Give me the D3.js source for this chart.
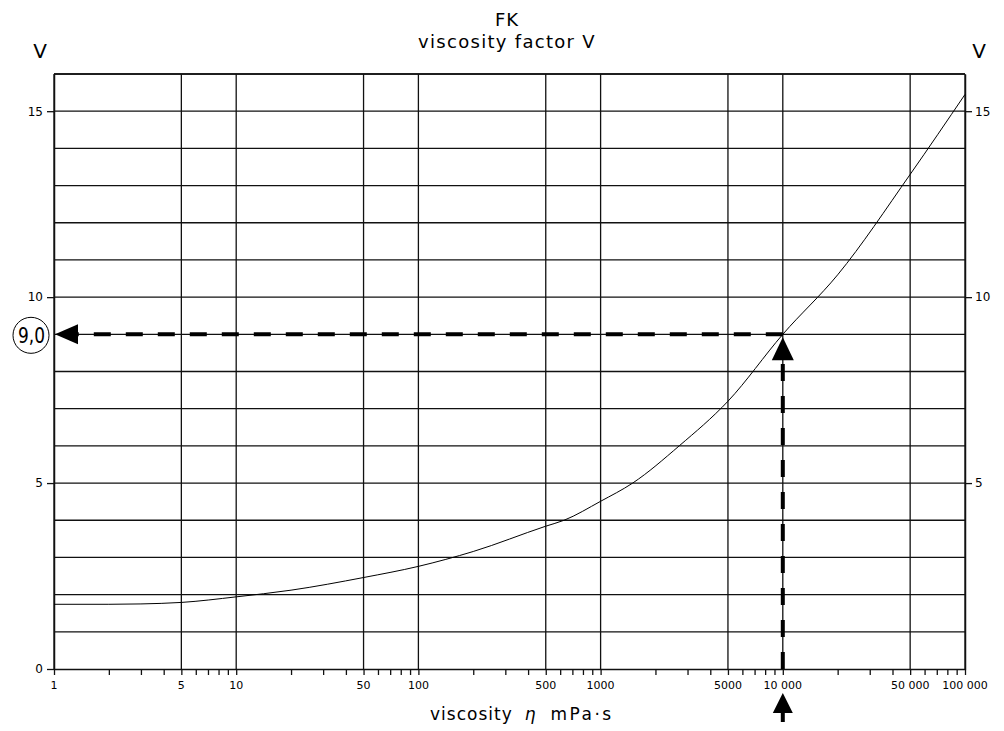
<!DOCTYPE html>
<html>
<head>
<meta charset="utf-8">
<script src="https://cdn.jsdelivr.net/npm/d3@7"></script>
<style>
  body { margin: 0; background: #fff; }
  text { font-family: "DejaVu Sans", sans-serif; fill: #000; }
</style>
</head>
<body>
<div id="chart"></div>
<script>
// curve: viscosity (mPa·s) -> factor V
var viscosity = [1, 2, 3, 5, 10, 20, 50, 100, 200, 500, 630, 1000, 1500, 2700, 5000, 10000, 20000, 50000, 100000];
var factorV   = [1.74, 1.74, 1.75, 1.79, 1.94, 2.12, 2.46, 2.76, 3.16, 3.84, 4.0, 4.51, 5.0, 6.0, 7.2, 9.0, 10.6, 13.3, 15.45];

// x axis ticks
var xGridValues = [1, 5, 10, 50, 100, 500, 1000, 5000, 10000, 50000, 100000];
var xTickLabels = ["1", "5", "10", "50", "100", "500", "1000", "5000", "10 000", "50 000", "100 000"];
var yLabelsLeft = [0, 5, 10, 15];
var yLabelsRight = [5, 10, 15];

// reading example
var readEta = 10000;
var readV = 9.0;
var readLabel = "9,0";

var W = 1004, H = 731;
var margin = {top: 74, right: 39, bottom: 62, left: 54};

var svg = d3.select("#chart").append("svg")
    .attr("width", W)
    .attr("height", H);

svg.append("rect").attr("width", W).attr("height", H).attr("fill", "#fff");

var x = d3.scaleLog()
    .domain([1, 100000])
    .range([margin.left, W - margin.right]);

var y = d3.scaleLinear()
    .domain([0, 16])
    .range([H - margin.bottom, margin.top]);

var x0 = x.range()[0], x1 = x.range()[1];
var y0 = y.range()[0], y1 = y.range()[1];

// minor tick values: 1..9 per decade
var minorTicks = [];
for (var p = 0; p < 5; p++) {
    for (var k = 1; k < 10; k++) minorTicks.push(k * Math.pow(10, p));
}
minorTicks.push(100000);

// horizontal grid
svg.append("g")
    .selectAll("line")
    .data(d3.range(1, 17))
    .enter().append("line")
    .attr("x1", x0).attr("x2", x1)
    .attr("y1", function (d) { return y(d); })
    .attr("y2", function (d) { return y(d); })
    .attr("stroke", "#111")
    .attr("stroke-width", 1.3);

// vertical grid
svg.append("g")
    .selectAll("line")
    .data(xGridValues)
    .enter().append("line")
    .attr("x1", function (d) { return x(d); })
    .attr("x2", function (d) { return x(d); })
    .attr("y1", y1).attr("y2", y0)
    .attr("stroke", "#111")
    .attr("stroke-width", 1.3);

// bottom axis with minor ticks
var xAxis = d3.axisBottom(x)
    .tickValues(minorTicks)
    .tickSize(6)
    .tickSizeOuter(0)
    .tickFormat("");

var gx = svg.append("g")
    .attr("transform", "translate(0," + y0 + ")")
    .call(xAxis);
gx.select(".domain").attr("stroke", "#111").attr("stroke-width", 1.5);
gx.selectAll(".tick line").attr("stroke", "#111").attr("stroke-width", 1.3);

// x tick labels
svg.append("g")
    .selectAll("text")
    .data(xGridValues)
    .enter().append("text")
    .attr("x", function (d) { return x(d); })
    .attr("y", y0 + 20)
    .attr("text-anchor", "middle")
    .style("font-size", "11px")
    .text(function (d, i) { return xTickLabels[i]; });

// left / right axes
var gl = svg.append("g")
    .attr("transform", "translate(" + x0 + ",0)")
    .call(d3.axisLeft(y).tickValues(yLabelsLeft).tickSize(7).tickPadding(4).tickSizeOuter(0));
gl.select(".domain").attr("stroke", "#111").attr("stroke-width", 1.5);
gl.selectAll(".tick line").attr("stroke", "#111").attr("stroke-width", 1.3);
gl.selectAll(".tick text").style("font-size", "12px").style("font-family", "DejaVu Sans");

var gr = svg.append("g")
    .attr("transform", "translate(" + x1 + ",0)")
    .call(d3.axisRight(y).tickValues(yLabelsRight).tickSize(7).tickPadding(3).tickSizeOuter(0));
gr.select(".domain").attr("stroke", "#111").attr("stroke-width", 1.5);
gr.selectAll(".tick line").attr("stroke", "#111").attr("stroke-width", 1.3);
gr.selectAll(".tick text").style("font-size", "12px").style("font-family", "DejaVu Sans");

// top frame
svg.append("line")
    .attr("x1", x0).attr("x2", x1)
    .attr("y1", y1).attr("y2", y1)
    .attr("stroke", "#111").attr("stroke-width", 1.5);

// the curve
var pts = viscosity.map(function (d, i) { return [d, factorV[i]]; });
var line = d3.line()
    .x(function (d) { return x(d[0]); })
    .y(function (d) { return y(d[1]); })
    .curve(d3.curveMonotoneX);

svg.append("path")
    .datum(pts)
    .attr("d", line)
    .attr("fill", "none")
    .attr("stroke", "#000")
    .attr("stroke-width", 1);

// reading lines (dashed, thick)
var rx = x(readEta), ry = y(readV);

svg.append("line")
    .attr("x1", rx).attr("y1", ry)
    .attr("x2", x0 + 24).attr("y2", ry)
    .attr("stroke", "#000")
    .attr("stroke-width", 4)
    .attr("stroke-dasharray", "17,15");

svg.append("line")
    .attr("x1", rx).attr("y1", y0)
    .attr("x2", rx).attr("y2", ry + 24)
    .attr("stroke", "#000")
    .attr("stroke-width", 4)
    .attr("stroke-dasharray", "17,15");

// arrow heads
svg.append("path")
    .attr("d", "M" + (x0 + 1) + "," + ry + "L" + (x0 + 24) + "," + (ry - 10) + "L" + (x0 + 24) + "," + (ry + 10) + "Z")
    .attr("fill", "#000");

svg.append("path")
    .attr("d", "M" + rx + "," + (ry + 3) + "L" + (rx - 11) + "," + (ry + 26) + "L" + (rx + 11) + "," + (ry + 26) + "Z")
    .attr("fill", "#000");

// arrow under the axis
svg.append("path")
    .attr("d", "M" + rx + "," + (y0 + 24) + "L" + (rx - 10) + "," + (y0 + 44) + "L" + (rx + 10) + "," + (y0 + 44) + "Z")
    .attr("fill", "#000");
svg.append("line")
    .attr("x1", rx).attr("x2", rx)
    .attr("y1", y0 + 42).attr("y2", y0 + 53)
    .attr("stroke", "#000").attr("stroke-width", 4);

// circled value
svg.append("circle")
    .attr("cx", 31).attr("cy", ry + 1)
    .attr("r", 18)
    .attr("fill", "#fff")
    .attr("stroke", "#000")
    .attr("stroke-width", 1);
svg.append("text")
    .attr("x", 18).attr("y", ry + 9)
    .attr("textLength", 27)
    .attr("lengthAdjust", "spacingAndGlyphs")
    .style("font-size", "21px")
    .text(readLabel);

// titles
svg.append("text")
    .attr("x", 507).attr("y", 26)
    .attr("text-anchor", "middle")
    .style("font-size", "18px")
    .style("letter-spacing", "1px")
    .text("FK");

svg.append("text")
    .attr("x", 507).attr("y", 48)
    .attr("text-anchor", "middle")
    .style("font-size", "18px")
    .style("letter-spacing", "1.3px")
    .text("viscosity factor V");

svg.append("text")
    .attr("x", 40).attr("y", 58)
    .attr("text-anchor", "middle")
    .style("font-size", "20px")
    .text("V");

svg.append("text")
    .attr("x", 979).attr("y", 58)
    .attr("text-anchor", "middle")
    .style("font-size", "20px")
    .text("V");

// x axis title
var xt = svg.append("text")
    .attr("x", 430).attr("y", 720)
    .style("font-size", "17px")
    .style("letter-spacing", "1px");
xt.append("tspan").text("viscosity");
xt.append("tspan").attr("dx", 12).style("font-style", "italic").text("η");
xt.append("tspan").attr("dx", 14).style("letter-spacing", "2.5px").text("mPa·s");
</script>
</body>
</html>
